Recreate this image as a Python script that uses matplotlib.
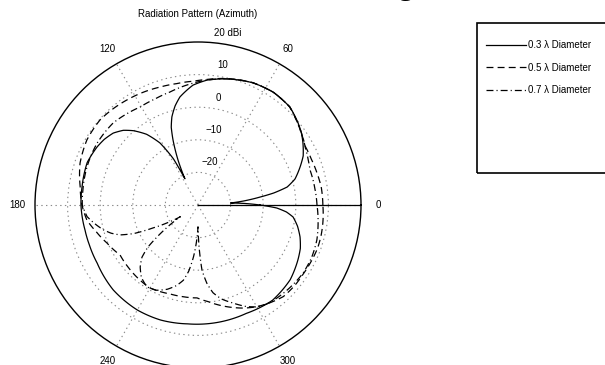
import numpy as np
import matplotlib
matplotlib.use("Agg")
import matplotlib.pyplot as plt
from matplotlib.patches import Rectangle

plt.rcParams['font.family'] = ['Liberation Sans', 'DejaVu Sans']
plt.rcParams['lines.scale_dashes'] = False

# Azimuth gain patterns (degrees, dBi) for three loop diameters
theta_03 = [0, 2, 3.5, 5, 7.3, 9, 11.4, 15, 20.4, 25, 30.6, 35, 39.4, 46.8, 56.4, 65.7,
            77, 85.9, 92.4, 99.5, 103, 106.5, 109, 111, 114, 116.5, 118, 121.5, 126,
            131, 135, 139.7, 145, 150, 159, 171, 180, 192.5, 200, 210, 225, 240, 252,
            265, 281, 294, 308, 321, 331, 337, 342.6, 348, 352.8, 355.5, 357.8, 360]
gain_03 = [-11, -16, -20, -16, -10.8, -6.5, -2.1, 0.8, 3.4, 5.6, 7.4, 8.7, 9.7, 11.2,
           11.6, 11.1, 9.7, 8.4, 6.8, 3.6, 1.2, -1.8, -4.8, -8.6, -15, -21, -14,
           -7.7, -3.2, 0.2, 2.4, 4.1, 5.1, 5.7, 6.4, 6.0, 5.9, 5.5, 5.5, 5.7, 6.8,
           7.2, 7.1, 6.6, 6.5, 6.4, 7.1, 6.4, 5.0, 4.1, 2.8, 1.2, -0.6, -2.8, -5.8, -11]

theta_05 = [0, 8, 15, 22, 28.5, 35, 40, 47, 56, 66, 77, 86, 92, 100, 107.8, 115, 124,
            132, 139, 149.6, 160.4, 171, 180, 187.7, 195, 202.7, 212.7, 222, 232, 240,
            252.5, 261, 269.4, 276, 282, 288, 293.6, 299, 305, 313, 320, 327, 334, 340,
            346, 351.5, 356, 360]
gain_05 = [8.3, 8.2, 7.8, 7.5, 7.5, 8.6, 9.7, 11.2, 11.6, 11.1, 9.8, 8.6, 8.0, 7.8, 8.0,
           8.4, 8.9, 9.4, 9.8, 9.5, 8.4, 6.6, 5.6, 4.4, 2.2, 0.25, -1.6, -1.3, -0.9,
           -0.6, -1.4, -1.5, -1.5, -0.2, 1.4, 3.0, 4.5, 5.8, 7.0, 8.4, 8.6, 8.6, 8.8,
           9.0, 8.9, 8.7, 8.5, 8.3]

theta_07 = [0, 8, 17.4, 22, 28, 34, 40, 47, 56, 66, 77, 86, 95, 104, 112, 120.6, 128,
            136, 148.5, 161, 172.6, 180, 186, 190, 194.7, 198, 201, 204, 207, 210,
            213.5, 215, 217, 220, 223, 227, 232, 238, 244, 250, 255, 259, 262, 265,
            267.5, 270, 271.5, 273.5, 276.5, 279.7, 284, 289.6, 295, 300, 305, 310,
            318, 327, 335, 343.6, 352, 360]
gain_07 = [6.5, 6.2, 6.0, 6.5, 7.3, 8.5, 9.7, 11.2, 11.6, 11.1, 9.7, 8.4, 7.0, 5.7, 5.1,
           4.9, 5.5, 6.2, 6.3, 6.0, 5.6, 5.5, 4.2, 2.3, 0.0, -2.0, -4.4, -8.5, -14.5,
           -19, -23.5, -20, -16, -10, -6.5, -4, -1.8, -0.4, -0.9, -2.5, -4.4, -6.5,
           -9.5, -14, -18.5, -23.3, -17, -10, -5.8, -2.7, -0.3, 1.9, 4.3, 6.1, 7.0,
           7.4, 7.9, 8.4, 8.4, 8.0, 7.2, 6.5]

series_labels = ['0.3 \u03bb Diameter', '0.5 \u03bb Diameter', '0.7 \u03bb Diameter']

r_min, r_max = -30, 20
ring_values = [-20, -10, 0, 10, 20]
ring_labels = ['\u221220', '\u221210', '0', '10', '20 dBi']
angle_ticks = list(range(0, 360, 60))

fig = plt.figure(figsize=(6.05, 3.65), dpi=100)
ax = fig.add_axes([35 / 605, -3 / 365, 326 / 605, 326 / 365], projection='polar')
ax.set_ylim(r_min, r_max)
ax.set_rgrids(ring_values[:-1], labels=[''] * (len(ring_values) - 1))
ax.set_thetagrids(angle_ticks, labels=[str(a) for a in angle_ticks])
ax.grid(True, color='#8a8a8a', linestyle=(0, (1, 2.4)), linewidth=0.8)
ax.tick_params(axis='x', pad=2, labelsize=7)
ax.spines['polar'].set_linewidth(1.0)
ax.spines['polar'].set_color('black')

# radial scale labels along the 82 degree direction
for val, lab in zip(ring_values, ring_labels):
    ax.annotate(lab, xy=(np.deg2rad(82), val), xytext=(5, 7.5),
                textcoords='offset points', ha='center', va='center', fontsize=7)

# zero-azimuth reference line
ax.plot([0, 0], [r_min, r_max], color='black', linewidth=0.9)

l1, = ax.plot(np.deg2rad(theta_03), gain_03, color='black', linewidth=0.9,
              linestyle='-', label=series_labels[0])
l2, = ax.plot(np.deg2rad(theta_05), gain_05, color='black', linewidth=0.9,
              linestyle=(0, (5, 3)), label=series_labels[1])
l3, = ax.plot(np.deg2rad(theta_07), gain_07, color='black', linewidth=0.9,
              linestyle=(0, (5, 2.2, 0.8, 2.2)), label=series_labels[2])
# follow the polar grid between samples instead of straight chords
for line in (l1, l2, l3):
    line.get_path()._interpolation_steps = 16

fig.text(198 / 605, 1 - 14 / 365, 'Radiation Pattern (Azimuth)', ha='center',
         va='center', fontsize=7)

# caption heading partially above the page edge
fig.text(398 / 605, 1 + 5 / 365, 'g', ha='left', va='baseline', fontsize=20,
         family='Liberation Serif', fontweight='bold')

fig.patches.append(Rectangle((477 / 605, 1 - 173 / 365), 150 / 605, 150 / 365,
                             transform=fig.transFigure, fill=False,
                             edgecolor='black', linewidth=1.2, clip_on=False))
fig.legend(handles=[l1, l2, l3], loc='upper left',
           bbox_to_anchor=(486 / 605, 1 - 40 / 365), frameon=False, fontsize=7,
           handlelength=4.1, handletextpad=0.25, labelspacing=1.3,
           borderpad=0, borderaxespad=0)

fig.savefig('out.png', dpi=100)
